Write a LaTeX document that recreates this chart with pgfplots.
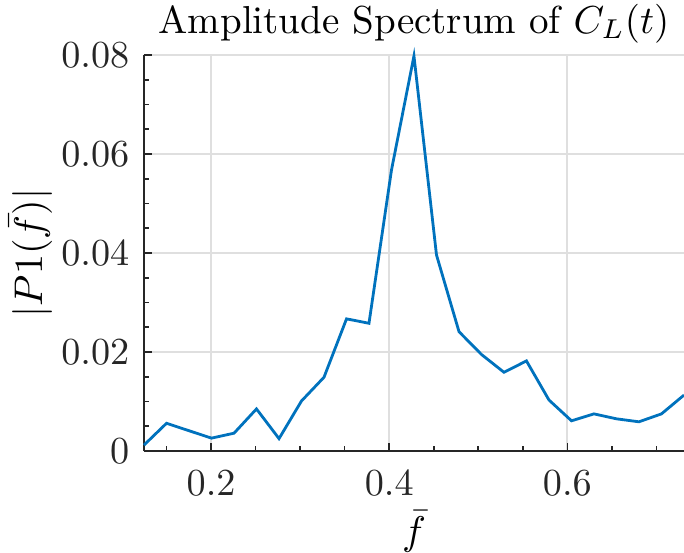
\documentclass[border=0pt]{standalone}
\usepackage{pgfplots}
\pgfplotsset{compat=1.18}
\usetikzlibrary{calc}
\definecolor{mblue}{RGB}{0,114,189}
\definecolor{mgrid}{RGB}{223,223,223}
\definecolor{maxis}{RGB}{38,38,38}
\begin{document}
\begin{tikzpicture}
\begin{axis}[
  scale only axis,
  width=270pt, height=198pt,
  xmin=0.1247, xmax=0.7310,
  ymin=0, ymax=0.08,
  axis x line*=bottom, axis y line*=left,
  axis line style={maxis, line width=0.8pt, -},
  xtick={0.2,0.4,0.6},
  ytick={0,0.02,0.04,0.06,0.08},
  minor xtick={0.15,0.25,0.3,0.35,0.45,0.5,0.55,0.65,0.7},
  minor ytick={0.005,0.01,0.015,0.025,0.03,0.035,0.045,0.05,0.055,0.065,0.07,0.075},
  tick align=inside,
  major tick length=4pt, minor tick length=2.5pt,
  tick style={maxis, line width=0.8pt},
  xmajorgrids, ymajorgrids,
  major grid style={mgrid, line width=1pt},
  minor grid style={draw=none},
  scaled ticks=false,
  /pgf/number format/fixed, /pgf/number format/precision=2,
  ticklabel style={font=\normalsize, scale=1.91, text=maxis},
  yticklabel style={anchor=east, inner sep=0pt, xshift=-3.66pt},
  xticklabel style={anchor=north, inner sep=0pt, yshift=-4.97pt},
  title={Amplitude Spectrum of $C_L(t)$},
  title style={at={(0.5,1)}, anchor=base, yshift=5pt, font=\normalsize, scale=1.95},
  xlabel={$\bar{f}$},
  ylabel={$|P1(\bar{f})|$},
  label style={font=\normalsize, scale=2.0},
  xlabel style={at={(rel axis cs:0.5,0)}, anchor=north, inner sep=0pt, yshift=-14.75pt},
  ylabel style={at={(rel axis cs:-0.1685,0.5)}, anchor=south, inner sep=0pt},
  clip=false,
]
\addplot[mblue, line width=1.4pt] coordinates {
(0.1247,0.0012)
(0.1500,0.0056)
(0.1752,0.0041)
(0.2005,0.0026)
(0.2258,0.0036)
(0.2510,0.0085)
(0.2763,0.0025)
(0.3015,0.0101)
(0.3268,0.0149)
(0.3521,0.0267)
(0.3773,0.0258)
(0.4026,0.0568)
(0.4278,0.0798)
(0.4531,0.0396)
(0.4784,0.0241)
(0.5036,0.0195)
(0.5289,0.0159)
(0.5541,0.0182)
(0.5794,0.0103)
(0.6047,0.0061)
(0.6299,0.0075)
(0.6552,0.0065)
(0.6804,0.0059)
(0.7057,0.0075)
(0.7310,0.0113)
};
\end{axis}
\pgfresetboundingbox
\path ($(current axis.south west)+(-72pt,-50.5pt)$) rectangle ($(current axis.north east)+(0pt,27.5pt)$);
\end{tikzpicture}
\end{document}
